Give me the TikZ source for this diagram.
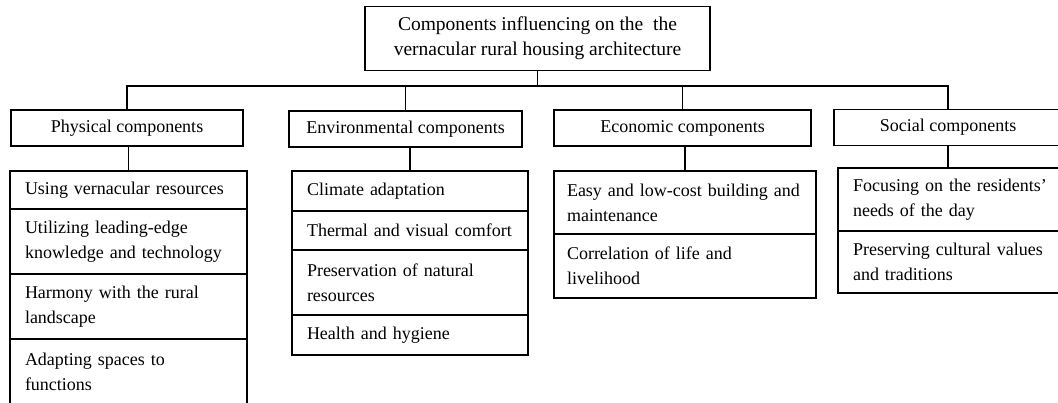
\documentclass[tikz,border=0pt]{standalone}
\usepackage{fontspec}
\setmainfont{Liberation Serif}
\usetikzlibrary{positioning}

\begin{document}
\begin{tikzpicture}[x=1pt,y=-1pt,font=\fontsize{18}{25}\selectfont,
    head/.style={draw,line width=1.5pt,align=center,minimum height=36pt,inner sep=0pt,outer sep=0pt},
    item/.style={draw,line width=1.5pt,align=left,anchor=north,inner xsep=15pt,inner ysep=0pt,outer sep=0pt},
    link/.style={line width=1.5pt}]
            \useasboundingbox (0,0) rectangle (1058,402);
            \clip (0,0) rectangle (1058,402);

            \node[head,minimum width=345pt,minimum height=64pt,font=\fontsize{19.5}{25}\selectfont] (root) at (537.5,38.5) {Components influencing on the \ the\\vernacular rural housing architecture};
            \coordinate (bus) at (0,86);

            \node[head,minimum width=232pt] (phys) at (127,128) {Physical components};
            \node[head,minimum width=233pt] (env) at (405.5,129) {Environmental components};
            \node[head,minimum width=257pt] (econ) at (682.5,128) {Economic components};
            \node[head,minimum width=228pt] (soc) at (948,127.5) {Social components};

            \draw[link] (root.south) -- (root.south |- bus);
            \draw[link] (phys.north) |- (soc.north |- bus) -- (soc.north);
            \draw[link] (env.north) -- (env.north |- bus);
            \draw[link] (econ.north) -- (econ.north |- bus);

            \node[item,text width=207pt,minimum height=38pt] (p1) at (128.5,171) {Using vernacular resources};
            \node[item,text width=207pt,minimum height=65pt] (p2) at (p1.south) {Utilizing leading-edge\\knowledge and technology};
            \node[item,text width=207pt,minimum height=65pt] (p3) at (p2.south) {Harmony with the rural\\landscape};
            \node[item,text width=207pt,minimum height=65pt] (p4) at (p3.south) {Adapting spaces to\\functions};

            \node[item,text width=206pt,minimum height=40pt] (e1) at (410,171) {Climate adaptation};
            \node[item,text width=206pt,minimum height=39pt] (e2) at (e1.south) {Thermal and visual comfort};
            \node[item,text width=206pt,minimum height=65pt] (e3) at (e2.south) {Preservation of natural\\resources};
            \node[item,text width=206pt,minimum height=40pt] (e4) at (e3.south) {Health and hygiene};

            \node[item,inner xsep=13pt,text width=236pt,minimum height=63pt] (c1) at (685,171) {Easy and low-cost building and\\maintenance};
            \node[item,inner xsep=13pt,text width=236pt,minimum height=64pt] (c2) at (c1.south) {Correlation of life and\\livelihood};

            \node[item,text width=198pt,minimum height=63pt] (s1) at (952,168) {Focusing on the residents'\\needs of the day};
            \node[item,text width=198pt,minimum height=62pt] (s2) at (s1.south) {Preserving cultural values\\and traditions};

            \draw[link] (phys.south -| p1.north) -- (p1.north);
            \draw[link] (env.south -| e1.north) -- (e1.north);
            \draw[link] (econ.south -| c1.north) -- (c1.north);
            \draw[link] (soc.south) -- (soc.south |- s1.north);
        \end{tikzpicture}
\end{document}
